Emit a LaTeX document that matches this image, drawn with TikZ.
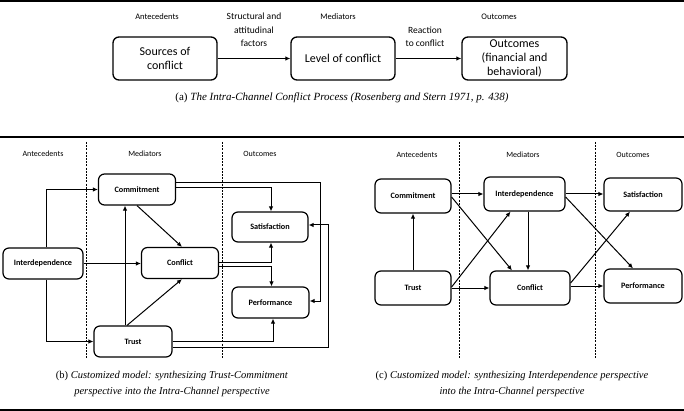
\documentclass[tikz,border=0pt]{standalone}
\usepackage{fontspec}
\setmainfont{Liberation Serif}
\newfontfamily\carl{Carlito}
\usetikzlibrary{arrows.meta,calc}
\begin{document}
\begin{tikzpicture}[x=1pt,y=-1pt,
  bx/.style={draw,rounded corners=6pt,line width=1.2pt,inner sep=0pt,align=center,font=\carl\fontsize{8.2}{9}\selectfont\bfseries},
  bigbx/.style={draw,rounded corners=6pt,line width=1.3pt,inner sep=0pt,align=center,font=\carl\fontsize{12}{14}\selectfont},
  hd/.style={font=\carl\fontsize{8}{9}\selectfont,inner sep=0pt},
  hda/.style={font=\carl\fontsize{8.5}{10}\selectfont,inner sep=0pt},
  lbl/.style={font=\carl\fontsize{9.5}{13.5}\selectfont,inner sep=0pt,align=center},
  arr/.style={-{Latex[length=5pt,width=4.5pt]},line width=1pt},
  dv/.style={dash pattern=on 2pt off 1.2pt,line width=0.9pt},
  captxt/.style={font=\fontsize{10.5}{16}\selectfont,align=center,inner sep=0pt},
  captxta/.style={font=\fontsize{11}{16}\selectfont,align=center,inner sep=0pt}
]
\useasboundingbox (0,0) rectangle (684,411);
% frame lines
\coordinate (tl) at (0,1); \coordinate (tr) at (684,1);
\coordinate (ml) at (0,137); \coordinate (mr) at (684,137);
\coordinate (bl) at (0,410); \coordinate (br) at (684,410);
\draw[line width=1.2pt] (tl) -- (tr);
\draw[line width=1.2pt] (ml) -- (mr);
\draw[line width=1.2pt] (bl) -- (br);

% ---------- (a)
\node[hda] (aA) at (157,17) {Antecedents};
\node[hda] (aM) at (338,17) {Mediators};
\node[hda] (aO) at (499,17) {Outcomes};
\node[lbl] (aS) at (254,30) {Structural and\\attitudinal\\factors};
\node[lbl] (aR) at (425,37) {Reaction\\to conflict};
\node[bigbx,minimum width=104pt,minimum height=43pt] (src) at (165,58.5) {Sources of\\conflict};
\node[bigbx,minimum width=104pt,minimum height=43pt] (lev) at (343,58.5) {Level of conflict};
\node[bigbx,minimum width=105pt,minimum height=43pt] (out) at (514.5,58.5) {Outcomes\\(financial and\\behavioral)};
\draw[arr] (src) -- (lev);
\draw[arr] (lev) -- (out);
\node[captxta] (capa) at (342,98) {(a) \textit{The Intra-Channel Conflict Process (Rosenberg and Stern 1971, p. 438)}};

% ---------- (b)
\node[hd] (bA) at (43,154) {Antecedents};
\node[hd] (bM) at (145,154) {Mediators};
\node[hd] (bO) at (260,154) {Outcomes};
\coordinate (bd1t) at (86,142); \coordinate (bd1b) at (86,358);
\coordinate (bd2t) at (222,142); \coordinate (bd2b) at (222,358);
\draw[dv] (bd1t) -- (bd1b);
\draw[dv] (bd2t) -- (bd2b);
\node[bx,minimum width=77pt,minimum height=31pt] (commit) at (137,189.5) {Commitment};
\node[bx,minimum width=80pt,minimum height=31pt] (interd) at (43,263.5) {Interdependence};
\node[bx,minimum width=77pt,minimum height=31pt] (confb) at (180,263) {Conflict};
\node[bx,minimum width=76pt,minimum height=30pt] (satis) at (270,227) {Satisfaction};
\node[bx,minimum width=77pt,minimum height=31pt] (perf) at (270.5,302.5) {Performance};
\node[bx,minimum width=78pt,minimum height=31pt] (trust) at (133,341.5) {Trust};

\draw[arr] ([xshift=3pt]interd.north) |- (commit.west);
\draw[arr] (interd.east) -- (interd.east -| confb.west);
\draw[arr] ([xshift=3pt]interd.south) |- (trust.west);
\draw[arr] (commit.south) -- ([xshift=2pt]confb.north);
\draw[arr] ([xshift=-8pt]trust.north) -- ([xshift=-8pt]trust.north |- commit.south);
\draw[arr] ([xshift=-6pt]trust.north) -- ([xshift=2pt]confb.south);
\draw[arr] ([yshift=6.5pt]commit.east) -- ++(144.5,0) |- ([yshift=1.5pt]perf.east);
\draw[arr] ([yshift=1.5pt]commit.east) -| ([xshift=1pt]satis.north);
\draw[arr] ([yshift=1pt]confb.east) -| ([xshift=1pt]satis.south);
\draw[arr] ([yshift=-3pt]confb.east) -| ([xshift=1pt]perf.north);
\draw[arr] (trust.east) -| ([xshift=2.5pt]perf.south);
\draw[arr] ([yshift=-5.5pt]trust.east) -- ++(156,0) |- ([yshift=2pt]satis.east);

\node[captxt] (capb) at (172,384) {(b) \textit{Customized model: synthesizing Trust-Commitment}\\\textit{perspective into the Intra-Channel perspective}};

% ---------- (c)
\node[hd] (cA) at (417,155) {Antecedents};
\node[hd] (cM) at (523,155) {Mediators};
\node[hd] (cO) at (633,155) {Outcomes};
\coordinate (cd1t) at (459,142); \coordinate (cd1b) at (459,358);
\coordinate (cd2t) at (595,142); \coordinate (cd2b) at (595,358);
\draw[dv] (cd1t) -- (cd1b);
\draw[dv] (cd2t) -- (cd2b);
\node[bx,minimum width=76pt,minimum height=34pt] (commitc) at (413,196) {Commitment};
\node[bx,minimum width=76pt,minimum height=34pt] (trustc) at (413,288) {Trust};
\node[bx,minimum width=81pt,minimum height=34pt] (interc) at (524.5,194) {Interdependence};
\node[bx,minimum width=80pt,minimum height=34pt] (conflc) at (530,288) {Conflict};
\node[bx,minimum width=78pt,minimum height=33pt] (satc) at (643,194.5) {Satisfaction};
\node[bx,minimum width=78pt,minimum height=34pt] (perfc) at (643,286) {Performance};

\draw[arr] (interc.west -| commitc.east) -- (interc.west);
\draw[arr] ([yshift=-1pt]commitc.east) -- ([xshift=-18pt]conflc.north);
\draw[arr] (trustc.north) -- (commitc.south);
\draw[arr] ([yshift=1pt]trustc.east) -- ([xshift=-14pt]interc.south);
\draw[arr] (trustc.east) -- (conflc.west);
\draw[arr] ([xshift=3.5pt]interc.south) -- ([xshift=3.5pt]interc.south |- conflc.north);
\draw[arr] (interc.east) -- (interc.east -| satc.west);
\draw[arr] ([yshift=-3pt]interc.east) -- ([xshift=-10pt]perfc.north);
\draw[arr] (perfc.west -| conflc.east) -- (perfc.west);
\draw[arr] ([yshift=5pt]conflc.east) -- ([xshift=-13pt]satc.south);

\node[captxt] (capc) at (512,384) {(c) \textit{Customized model: synthesizing Interdependence perspective}\\\textit{into the Intra-Channel perspective}};
\end{tikzpicture}
\end{document}
